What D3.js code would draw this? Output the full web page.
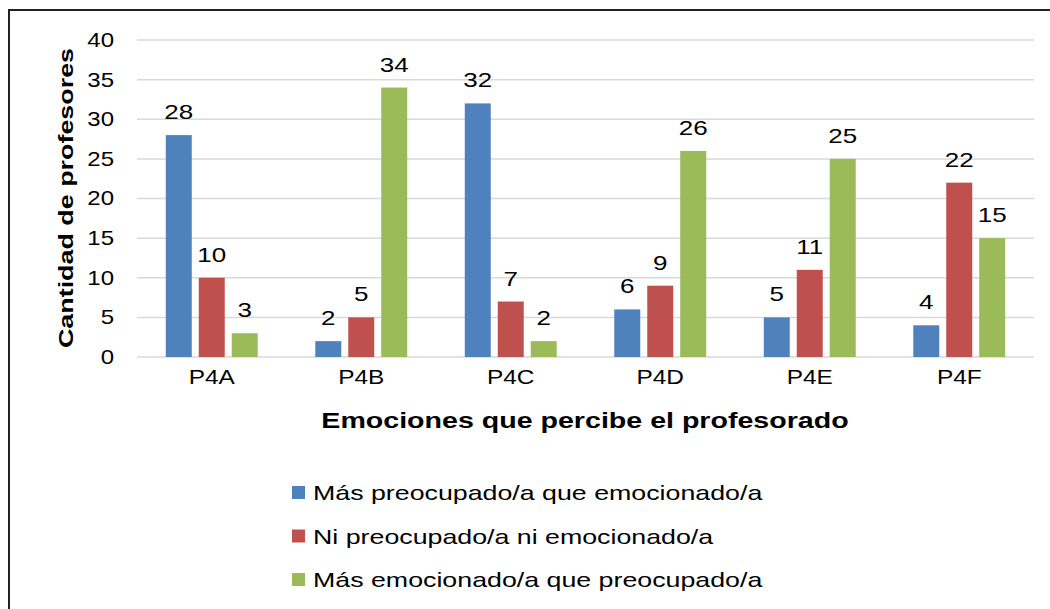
<!DOCTYPE html>
<html>
<head>
<meta charset="utf-8">
<script src="https://cdn.jsdelivr.net/npm/d3@7"></script>
<style>
  body { margin: 0; background: #fff; }
  svg { font-family: "Liberation Sans", Arial, sans-serif; }
</style>
</head>
<body>
<div id="chart"></div>
<script>
const categories = ["P4A", "P4B", "P4C", "P4D", "P4E", "P4F"];
const seriesNames = [
  "Más preocupado/a que emocionado/a",
  "Ni preocupado/a ni emocionado/a",
  "Más emocionado/a que preocupado/a"
];
const preocupado = [28, 2, 32, 6, 5, 4];
const neutral = [10, 5, 7, 9, 11, 22];
const emocionado = [3, 34, 2, 26, 25, 15];
const yTicks = [0, 5, 10, 15, 20, 25, 30, 35, 40];
const colors = ["#4f81bd", "#c0504d", "#9bbb59"];

const width = 1050, height = 609;
const margin = { left: 137, right: 16, top: 40, bottom: 252 };
// the original picture is stretched sideways, text too
const stretch = 1.25;

const svg = d3.select("#chart").append("svg")
  .attr("width", width)
  .attr("height", height);

// chart frame
svg.append("rect")
  .attr("x", 9).attr("y", 10)
  .attr("width", 1060).attr("height", 620)
  .attr("fill", "#fff")
  .attr("stroke", "#222")
  .attr("stroke-width", 2);

const seriesValues = [preocupado, neutral, emocionado];
const data = categories.map((c, i) => ({
  cat: c,
  vals: seriesValues.map((s, j) => ({ key: j, value: s[i] }))
}));

const x = d3.scaleBand()
  .domain(categories)
  .range([margin.left, width - margin.right])
  .paddingInner(0.385)
  .paddingOuter(0.1925);

const xSub = d3.scaleBand()
  .domain([0, 1, 2])
  .range([0, x.bandwidth()])
  .paddingInner(0.212);

const y = d3.scaleLinear()
  .domain([0, 40])
  .range([height - margin.bottom, margin.top]);

// gridlines
svg.append("g")
  .selectAll("line")
  .data(yTicks)
  .join("line")
  .attr("x1", margin.left)
  .attr("x2", width - margin.right)
  .attr("y1", d => y(d))
  .attr("y2", d => y(d))
  .attr("stroke", "#d9d9d9")
  .attr("stroke-width", 1.5);

// y axis labels
const yAxis = d3.axisLeft(y).tickValues(yTicks).tickSize(0);
svg.append("g")
  .attr("transform", "translate(" + margin.left + ",0)")
  .call(yAxis)
  .call(g => g.select(".domain").remove())
  .selectAll("text")
  .attr("x", -23 / 1.2)
  .attr("transform", "scale(1.2,1)")
  .attr("font-size", 20)
  .attr("font-family", "Liberation Sans, Arial, sans-serif")
  .attr("fill", "#000");

// x axis labels
const xAxis = d3.axisBottom(x).tickSize(0).tickPadding(13);
svg.append("g")
  .attr("transform", "translate(0," + y(0) + ")")
  .call(xAxis)
  .call(g => g.select(".domain").remove())
  .selectAll("text")
  .attr("transform", "scale(1.22,1)")
  .attr("font-size", 20)
  .attr("font-family", "Liberation Sans, Arial, sans-serif")
  .attr("fill", "#000");

// bars
const groups = svg.append("g")
  .selectAll("g")
  .data(data)
  .join("g")
  .attr("transform", d => "translate(" + x(d.cat) + ",0)");

groups.selectAll("rect")
  .data(d => d.vals)
  .join("rect")
  .attr("x", d => xSub(d.key))
  .attr("y", d => y(d.value))
  .attr("width", xSub.bandwidth())
  .attr("height", d => y(0) - y(d.value))
  .attr("fill", d => colors[d.key]);

groups.selectAll("text")
  .data(d => d.vals)
  .join("text")
  .attr("transform", d => "translate(" + (xSub(d.key) + xSub.bandwidth() / 2) + "," + (y(d.value) - 16) + ") scale(1.3,1)")
  .attr("text-anchor", "middle")
  .attr("font-size", 20)
  .attr("fill", "#000")
  .text(d => d.value);

// axis titles
svg.append("text")
  .attr("transform", "translate(585,428) scale(1.3,1)")
  .attr("text-anchor", "middle")
  .attr("font-size", 22)
  .attr("font-weight", "bold")
  .text("Emociones que percibe el profesorado");

svg.append("text")
  .attr("transform", "translate(73,198) rotate(-90) scale(1.28,1)")
  .attr("text-anchor", "middle")
  .attr("font-size", 21)
  .attr("font-weight", "bold")
  .text("Cantidad de profesores");

// legend
const legend = svg.append("g")
  .selectAll("g")
  .data(seriesNames)
  .join("g")
  .attr("transform", (d, i) => "translate(292," + (492 + i * 43.5) + ")");

legend.append("rect")
  .attr("x", 0).attr("y", -6)
  .attr("width", 13).attr("height", 13)
  .attr("fill", (d, i) => colors[i]);

legend.append("text")
  .attr("transform", "translate(21,8) scale(" + (stretch + 0.025) + ",1)")
  .attr("font-size", 21)
  .attr("fill", "#000")
  .text(d => d);
</script>
</body>
</html>
